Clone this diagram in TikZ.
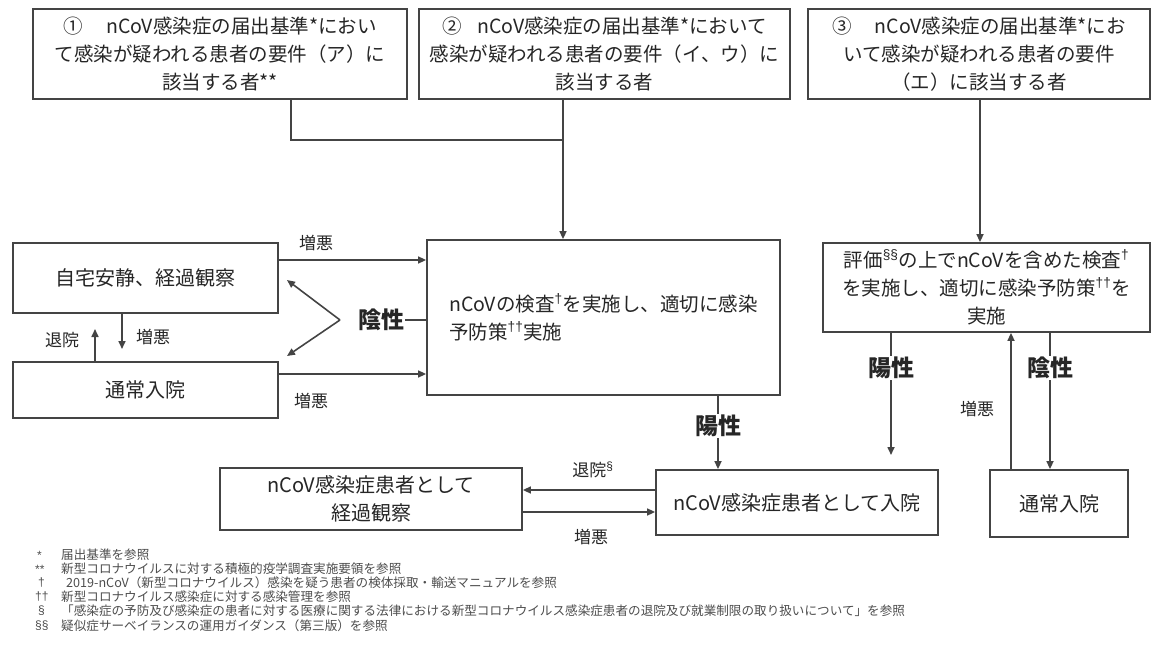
\documentclass[tikz,border=0pt]{standalone}
\usepackage{fontspec}
\setmainfont{Noto Sans CJK JP}
\newfontfamily\latinf{Liberation Sans}
\usetikzlibrary{arrows.meta}
\definecolor{ink}{HTML}{262626}
\definecolor{edge}{HTML}{444444}
\definecolor{note}{HTML}{4d4d4d}
\newcommand{\dg}{\textsuperscript{\latinf †}}
\newcommand{\ddg}{\textsuperscript{\latinf ††}}
\newcommand{\sect}{\textsuperscript{\latinf §}}
\newcommand{\ssect}{\textsuperscript{\latinf §§}}
\begin{document}
\begin{tikzpicture}[x=1pt,y=-1pt,
 box/.style={draw=edge, line width=1.8pt, fill=white, align=center, text=ink, inner sep=0pt, font=\fontsize{19.5}{28}\selectfont},
 conn/.style={draw=edge, line width=1.6pt},
 arr/.style={conn, -{Triangle[length=8pt,width=7pt]}},
 lbl/.style={text=ink, font=\fontsize{17}{20}\selectfont, inner sep=1pt},
 res/.style={text=ink, font=\fontsize{23}{26}\selectfont\bfseries, inner sep=1pt},
 fn/.style={text=note, font=\fontsize{12.6}{14}\selectfont, anchor=west, inner sep=0pt},
 fnm/.style={text=note, font=\fontsize{12}{14}\latinf, anchor=west, inner sep=0pt},
]
\useasboundingbox (0,0) rectangle (1154,650);

% top boxes
\node[box, minimum width=374pt, minimum height=90pt] (b1) at (220,54)
 {①\hspace{1.2em}nCoV感染症の届出基準*におい\\て感染が疑われる患者の要件（ア）に\\該当する者**};
\node[box, minimum width=371pt, minimum height=90pt] (b2) at (604.5,54)
 {②\hspace{0.8em}nCoV感染症の届出基準*において\\感染が疑われる患者の要件（イ、ウ）に\\該当する者};
\node[box, minimum width=342pt, minimum height=90pt] (b3) at (979,54)
 {③\hspace{1.2em}nCoV感染症の届出基準*にお\\いて感染が疑われる患者の要件\\（エ）に該当する者};

% middle row
\node[box, align=left, minimum width=353pt, minimum height=155pt] (mid) at (603.5,317.5)
 {nCoVの検査\dg を実施し、適切に感染\\予防策\ddg 実施};
\node[box, font=\fontsize{20}{28}\selectfont, minimum width=265pt, minimum height=70pt] (home) at (145.5,278)
 {自宅安静、経過観察};
\node[box, font=\fontsize{20}{28}\selectfont, minimum width=265pt, minimum height=56pt] (hosp) at (145.5,390)
 {通常入院};
\node[box, minimum width=327pt, minimum height=89pt] (rt) at (986.5,287.5)
 {評価\ssect の上でnCoVを含めた検査\dg\\を実施し、適切に感染予防策\ddg を\\実施};

% bottom row
\node[box, font=\fontsize{20}{28}\selectfont, minimum width=302pt, minimum height=62pt] (obs) at (371,499)
 {nCoV感染症患者として\\経過観察};
\node[box, font=\fontsize{20}{28}\selectfont, minimum width=282pt, minimum height=65pt] (adm) at (797,502.5)
 {nCoV感染症患者として入院};
\node[box, font=\fontsize{20}{28}\selectfont, minimum width=138pt, minimum height=67pt] (rh) at (1059,503.5)
 {通常入院};

% top connectors
\coordinate (j1) at (291,140);
\coordinate (j2) at (563,140);
\draw[conn] (j1 |- b1.south) -- (j1) -- (j2);
\draw[arr] (j2 |- b2.south) -- (j2 |- mid.north);
\coordinate (j3) at (980,0);
\draw[arr] (j3 |- b3.south) -- (j3 |- rt.north);

% left side
\draw[arr] ([yshift=18pt]home.east) -- ([yshift=18pt]home.east -| mid.west);
\node[lbl] at (316,243) {増悪};
\draw[arr] ([yshift=16pt]hosp.east) -- ([yshift=16pt]hosp.east -| mid.west);
\node[lbl] at (311,401) {増悪};
\coordinate (d1) at (122,349);
\draw[arr] (d1 |- home.south) -- (d1);
\coordinate (u1) at (95,329);
\draw[arr] (u1 |- hosp.north) -- (u1);
\node[lbl] at (62,340) {退院};
\node[lbl] at (153,337) {増悪};
\node[res] (neg1) at (381,320) {陰性};
\coordinate (v) at (340,320);
\coordinate (vt) at (287,280);
\coordinate (vb) at (287,356);
\draw[arr] (v) -- (vt);
\draw[arr] (v) -- (vb);
\draw[conn] (neg1.east) -- (neg1.east -| mid.west);

% middle positive
\node[res] (pos1) at (718,426) {陽性};
\draw[conn] (mid.south -| pos1) -- (pos1.north);
\draw[arr] (pos1.south) -- (pos1 |- adm.north);

% right side
\node[res] (pos2) at (891,368) {陽性};
\draw[conn] (pos2 |- rt.south) -- (pos2.north);
\coordinate (pe) at (891,455);
\draw[arr] (pos2.south) -- (pe);
\node[res] (neg2) at (1050,368) {陰性};
\draw[conn] (neg2 |- rt.south) -- (neg2.north);
\draw[arr] (neg2.south) -- (neg2 |- rh.north);
\coordinate (up) at (1011,0);
\draw[arr] (up |- rh.north) -- (up |- rt.south);
\node[lbl] at (977,409) {増悪};

% bottom connectors
\draw[arr] ([yshift=12.5pt]adm.west) -- ([yshift=12.5pt]adm.west -| obs.east);
\node[lbl] at (593,470) {退院\sect};
\draw[arr] ([yshift=-13pt]obs.east) -- ([yshift=-13pt]obs.east -| adm.west);
\node[lbl] at (591,537) {増悪};

% footnotes
\node[fnm] (m1) at (37,555) {*};
\node[fn] (f1) at (61,555) {届出基準を参照};
\node[fnm] (m2) at (35,569) {**};
\node[fn] (f2) at (61,569) {新型コロナウイルスに対する積極的疫学調査実施要領を参照};
\node[fnm] (m3) at (38,583) {†};
\node[fn] (f3) at (66,583) {2019-nCoV（新型コロナウイルス）感染を疑う患者の検体採取・輸送マニュアルを参照};
\node[fnm] (m4) at (35,597) {††};
\node[fn] (f4) at (61,597) {新型コロナウイルス感染症に対する感染管理を参照};
\node[fnm] (m5) at (38,611) {§};
\node[fn] (f5) at (61,611) {「感染症の予防及び感染症の患者に対する医療に関する法律における新型コロナウイルス感染症患者の退院及び就業制限の取り扱いについて」を参照};
\node[fnm] (m6) at (35,626) {§§};
\node[fn] (f6) at (61,626) {疑似症サーベイランスの運用ガイダンス（第三版）を参照};
\end{tikzpicture}
\end{document}
